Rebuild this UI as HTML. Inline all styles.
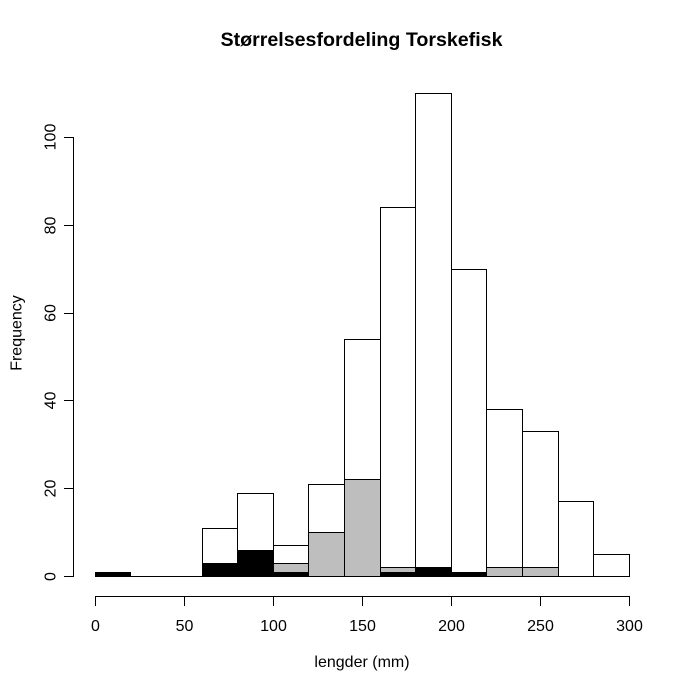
<!DOCTYPE html>
<html>
<head>
<meta charset="utf-8">
<style>
html,body{margin:0;padding:0;background:#fff;}
svg{display:block;}
text{font-family:"Liberation Sans",Arial,sans-serif;fill:#000;}
</style>
</head>
<body>
<svg width="689" height="688" viewBox="0 0 689 688" xmlns="http://www.w3.org/2000/svg">
<rect x="0" y="0" width="689" height="688" fill="#fff"/>
<!-- Title -->
<text x="361.5" y="46" font-size="19.4" font-weight="bold" text-anchor="middle" textLength="282" lengthAdjust="spacingAndGlyphs">Størrelsesfordeling Torskefisk</text>

<g stroke="#000" stroke-width="1" shape-rendering="crispEdges">
<!-- white histogram -->
<g fill="#fff">
<rect x="95.5" y="572.5" width="35" height="4"/>
<rect x="202.5" y="528.5" width="35" height="48"/>
<rect x="237.5" y="493.5" width="36" height="83"/>
<rect x="273.5" y="545.5" width="35" height="31"/>
<rect x="308.5" y="484.5" width="36" height="92"/>
<rect x="344.5" y="339.5" width="36" height="237"/>
<rect x="380.5" y="207.5" width="35" height="369"/>
<rect x="415.5" y="93.5" width="36" height="483"/>
<rect x="451.5" y="269.5" width="35" height="307"/>
<rect x="486.5" y="409.5" width="36" height="167"/>
<rect x="522.5" y="431.5" width="36" height="145"/>
<rect x="558.5" y="501.5" width="35" height="75"/>
<rect x="593.5" y="554.5" width="36" height="22"/>
</g>
<line x1="95.5" y1="576.5" x2="629.5" y2="576.5"/>
<!-- grey histogram -->
<g fill="#bebebe">
<rect x="273.5" y="563.5" width="35" height="13"/>
<rect x="308.5" y="532.5" width="36" height="44"/>
<rect x="344.5" y="479.5" width="36" height="97"/>
<rect x="380.5" y="567.5" width="35" height="9"/>
<rect x="486.5" y="567.5" width="36" height="9"/>
<rect x="522.5" y="567.5" width="36" height="9"/>
</g>
<!-- black histogram -->
<g fill="#000">
<rect x="95.5" y="572.5" width="35" height="4"/>
<rect x="202.5" y="563.5" width="35" height="13"/>
<rect x="237.5" y="550.5" width="36" height="26"/>
<rect x="273.5" y="572.5" width="35" height="4"/>
<rect x="380.5" y="572.5" width="35" height="4"/>
<rect x="415.5" y="567.5" width="36" height="9"/>
<rect x="451.5" y="572.5" width="35" height="4"/>
</g>

<!-- y axis -->
<line x1="73.5" y1="137" x2="73.5" y2="577"/>
<line x1="64" y1="576.5" x2="73.5" y2="576.5"/>
<line x1="64" y1="488.5" x2="73.5" y2="488.5"/>
<line x1="64" y1="400.5" x2="73.5" y2="400.5"/>
<line x1="64" y1="313.5" x2="73.5" y2="313.5"/>
<line x1="64" y1="225.5" x2="73.5" y2="225.5"/>
<line x1="64" y1="137.5" x2="73.5" y2="137.5"/>

<!-- x axis -->
<line x1="95" y1="596.5" x2="630" y2="596.5"/>
<line x1="95.5" y1="596.5" x2="95.5" y2="606"/>
<line x1="184.5" y1="596.5" x2="184.5" y2="606"/>
<line x1="273.5" y1="596.5" x2="273.5" y2="606"/>
<line x1="362.5" y1="596.5" x2="362.5" y2="606"/>
<line x1="451.5" y1="596.5" x2="451.5" y2="606"/>
<line x1="540.5" y1="596.5" x2="540.5" y2="606"/>
<line x1="629.5" y1="596.5" x2="629.5" y2="606"/>
</g>

<!-- x tick labels -->
<g font-size="16" text-anchor="middle">
<text x="95.5" y="631">0</text>
<text x="184.5" y="631">50</text>
<text x="273.5" y="631">100</text>
<text x="362.5" y="631">150</text>
<text x="451.5" y="631">200</text>
<text x="540.5" y="631">250</text>
<text x="629.5" y="631">300</text>
</g>

<!-- y tick labels -->
<g font-size="16" text-anchor="middle">
<text transform="translate(55.5,576.5) rotate(-90)">0</text>
<text transform="translate(55.5,488.5) rotate(-90)">20</text>
<text transform="translate(55.5,400.5) rotate(-90)">40</text>
<text transform="translate(55.5,313) rotate(-90)">60</text>
<text transform="translate(55.5,225.5) rotate(-90)">80</text>
<text transform="translate(55.5,137) rotate(-90)">100</text>
</g>

<!-- axis labels -->
<text x="362" y="667" font-size="16" text-anchor="middle">lengder (mm)</text>
<text transform="translate(21.5,333) rotate(-90)" font-size="16" text-anchor="middle">Frequency</text>
</svg>
</body>
</html>
